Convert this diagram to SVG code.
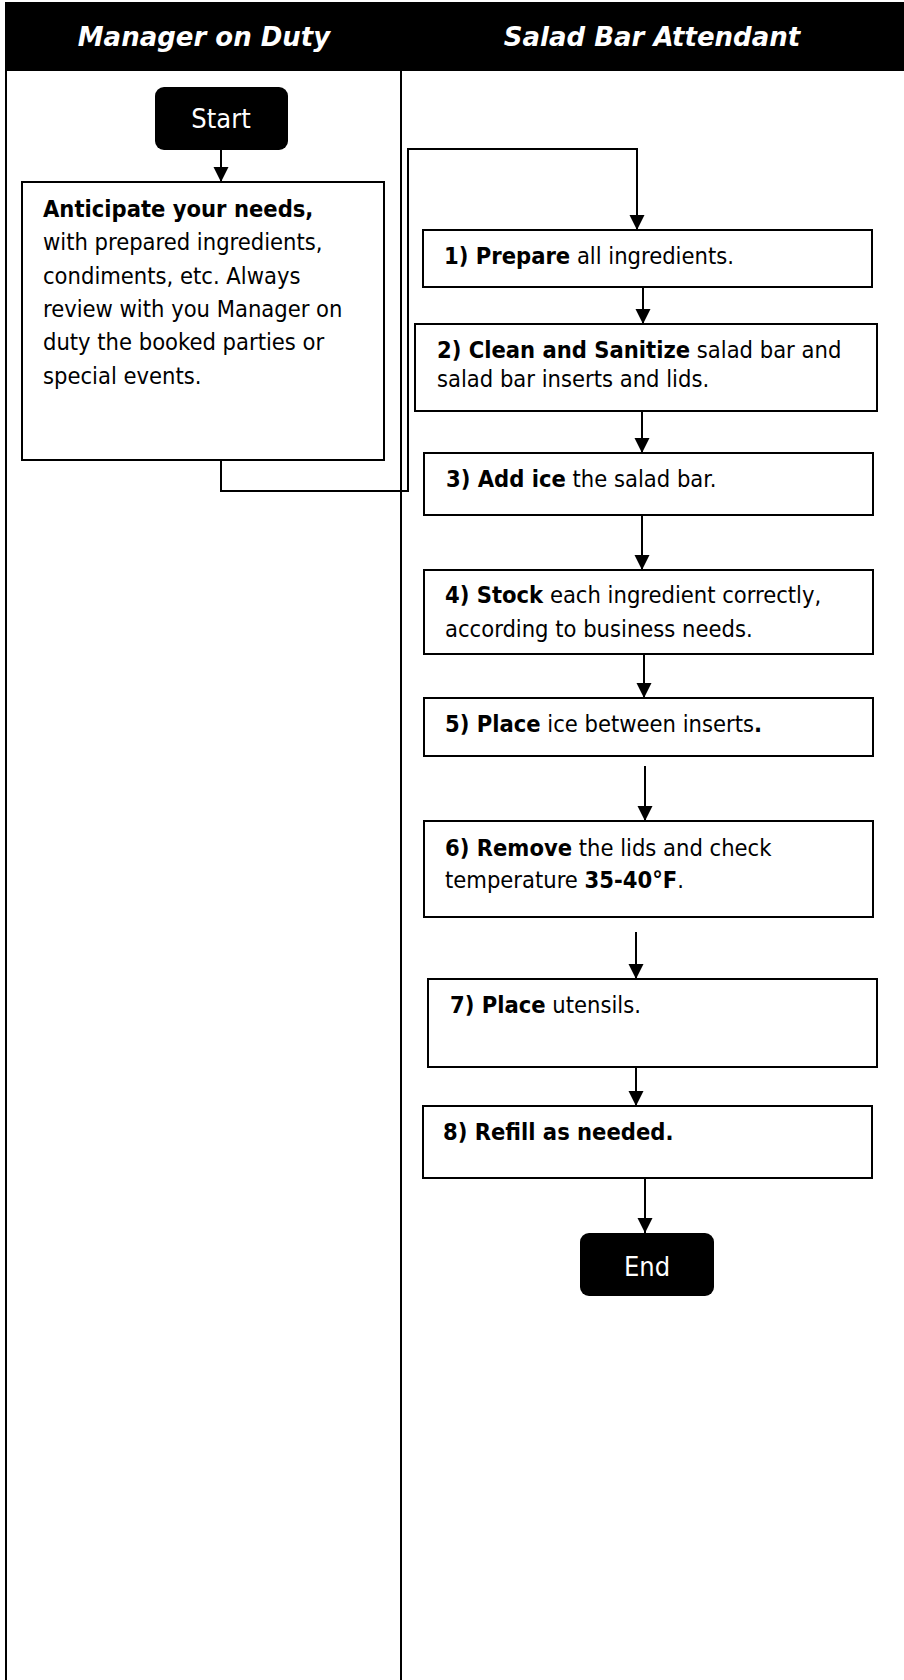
<svg xmlns="http://www.w3.org/2000/svg" width="904" height="1680" viewBox="0 0 904 1680">
<style>
.hdr{font-family:"DejaVu Sans","Verdana",sans-serif;font-weight:bold;font-style:italic;font-size:26px;fill:#fff;text-anchor:middle}
.t{font-family:"DejaVu Sans Condensed","DejaVu Sans",sans-serif;font-size:23.5px;fill:#000}
.b{font-weight:bold}
.term{font-family:"DejaVu Sans Condensed","DejaVu Sans",sans-serif;font-size:27px;fill:#fff;text-anchor:middle}
.box{fill:#fff;stroke:#000;stroke-width:2}
.tb{fill:#000;stroke:none}
.lane{stroke:#000;stroke-width:2;fill:none}
.c{stroke:#000;stroke-width:2;fill:none;marker-end:url(#ah)}
</style>
<defs>
<marker id="ah" markerUnits="userSpaceOnUse" markerWidth="16" markerHeight="16" refX="15" refY="7.5" orient="auto">
<path d="M0,0 L15,7.5 L0,15 z" fill="#000"/>
</marker>
</defs>
<rect width="904" height="1680" fill="#fff"/>
<g id="lanes">
<rect x="5" y="2" width="899" height="69" fill="#000"/>
<line class="lane" x1="6" y1="70" x2="6" y2="1680"/>
<line class="lane" x1="401" y1="70" x2="401" y2="1680"/>
<text class="hdr" x="204" y="46">Manager on Duty</text>
<text class="hdr" x="652" y="46">Salad Bar Attendant</text>
</g>
<g id="connectors">
<path class="c" d="M221,150 V182"/>
<path class="c" d="M221,461 V491 H408 V149 H637 V230"/>
<path class="c" d="M643,287 V324"/>
<path class="c" d="M642,411 V453"/>
<path class="c" d="M642,515 V570"/>
<path class="c" d="M644,654 V698"/>
<path class="c" d="M645,766 V821"/>
<path class="c" d="M636,932 V979"/>
<path class="c" d="M636,1067 V1106"/>
<path class="c" d="M645,1178 V1233"/>
</g>
<g id="start">
<rect class="tb" x="155" y="87" width="133" height="63" rx="9"/>
<text class="term" x="221" y="128">Start</text>
</g>
<g id="anticipate">
<rect class="box" x="22" y="182" width="362" height="278"/>
<text class="t" x="43" y="216.5"><tspan class="b">Anticipate your needs,</tspan></text>
<text class="t" x="43" y="250">with prepared ingredients,</text>
<text class="t" x="43" y="283.5">condiments, etc. Always</text>
<text class="t" x="43" y="317">review with you Manager on</text>
<text class="t" x="43" y="350">duty the booked parties or</text>
<text class="t" x="43" y="383.5">special events.</text>
</g>
<g id="step1">
<rect class="box" x="423" y="230" width="449" height="57"/>
<text class="t" x="444" y="264"><tspan class="b">1) Prepare</tspan> all ingredients.</text>
</g>
<g id="step2">
<rect class="box" x="415" y="324" width="462" height="87"/>
<text class="t" x="437" y="358"><tspan class="b">2) Clean and Sanitize</tspan> salad bar and</text>
<text class="t" x="437" y="387">salad bar inserts and lids.</text>
</g>
<g id="step3">
<rect class="box" x="424" y="453" width="449" height="62"/>
<text class="t" x="446" y="487"><tspan class="b">3) Add ice</tspan> the salad bar.</text>
</g>
<g id="step4">
<rect class="box" x="424" y="570" width="449" height="84"/>
<text class="t" x="445" y="603"><tspan class="b">4) Stock</tspan> each ingredient correctly,</text>
<text class="t" x="445" y="637">according to business needs.</text>
</g>
<g id="step5">
<rect class="box" x="424" y="698" width="449" height="58"/>
<text class="t" x="445" y="732"><tspan class="b">5) Place</tspan> ice between inserts<tspan class="b">.</tspan></text>
</g>
<g id="step6">
<rect class="box" x="424" y="821" width="449" height="96"/>
<text class="t" x="445" y="856"><tspan class="b">6) Remove</tspan> the lids and check</text>
<text class="t" x="445" y="888">temperature <tspan class="b">35-40°F</tspan>.</text>
</g>
<g id="step7">
<rect class="box" x="428" y="979" width="449" height="88"/>
<text class="t" x="450" y="1013"><tspan class="b">7) Place</tspan> utensils.</text>
</g>
<g id="step8">
<rect class="box" x="423" y="1106" width="449" height="72"/>
<text class="t b" x="443" y="1140">8) Refill as needed.</text>
</g>
<g id="end">
<rect class="tb" x="580" y="1233" width="134" height="63" rx="9"/>
<text class="term" x="647" y="1276">End</text>
</g>
</svg>
